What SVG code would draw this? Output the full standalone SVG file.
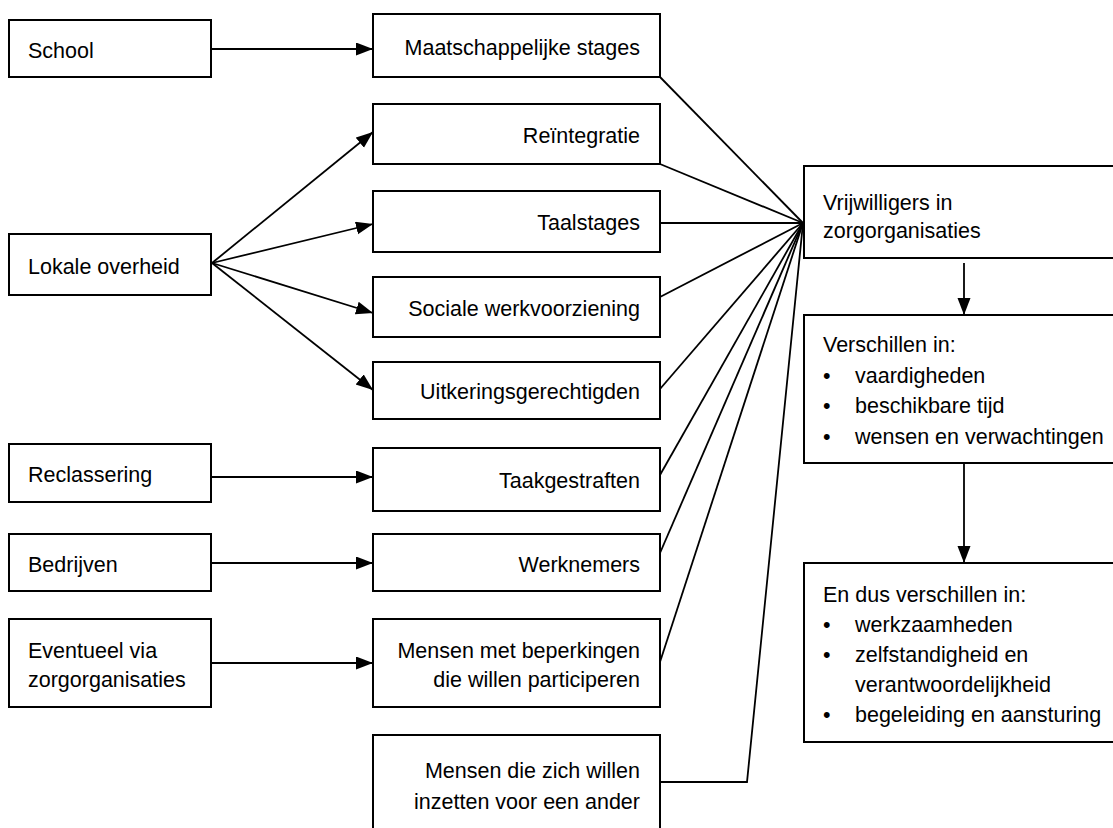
<svg xmlns="http://www.w3.org/2000/svg" width="1113" height="828" viewBox="0 0 1113 828">
<style>
rect{fill:#fff;stroke:#000;stroke-width:2}
text{font-family:"Liberation Sans",Arial,sans-serif;font-size:21.5px;fill:#000}
.r{text-anchor:end}
.c line,.c polyline{stroke:#000;stroke-width:1.8;fill:none}
.a{marker-end:url(#ah)}
</style>
<defs>
<marker id="ah" markerUnits="userSpaceOnUse" markerWidth="18" markerHeight="14" refX="17" refY="6.5" orient="auto">
<path d="M0,0 L17,6.5 L0,13 z" fill="#000"/>
</marker>
</defs>
<g class="c" id="connectors">
<line class="a" x1="211" y1="49" x2="373" y2="49"/>
<line class="a" x1="212" y1="263" x2="373" y2="132"/>
<line class="a" x1="212" y1="263" x2="373" y2="224"/>
<line class="a" x1="212" y1="263" x2="373" y2="313"/>
<line class="a" x1="212" y1="263" x2="373" y2="390"/>
<line class="a" x1="211" y1="477" x2="373" y2="477"/>
<line class="a" x1="211" y1="563" x2="373" y2="563"/>
<line class="a" x1="211" y1="663" x2="373" y2="663"/>
<line x1="660" y1="77" x2="803" y2="223"/>
<line x1="660" y1="164" x2="803" y2="223"/>
<line x1="660" y1="223" x2="803" y2="223"/>
<line x1="660" y1="297" x2="803" y2="223"/>
<line x1="660" y1="389" x2="803" y2="223"/>
<line x1="660" y1="475" x2="803" y2="223"/>
<line x1="660" y1="553" x2="803" y2="223"/>
<line x1="660" y1="662" x2="803" y2="223"/>
<polyline points="660,782 747,782 803,223"/>
<line class="a" x1="964" y1="263" x2="964" y2="315"/>
<line class="a" x1="964" y1="464" x2="964" y2="563"/>
</g>
<g id="school"><rect x="9" y="20" width="202" height="57"/><text x="28" y="58">School</text></g>
<g id="lokale"><rect x="9" y="234" width="202" height="61"/><text x="28" y="274">Lokale overheid</text></g>
<g id="reclassering"><rect x="9" y="444" width="202" height="58"/><text x="28" y="482">Reclassering</text></g>
<g id="bedrijven"><rect x="9" y="534" width="202" height="57"/><text x="28" y="572">Bedrijven</text></g>
<g id="eventueel"><rect x="9" y="619" width="202" height="88"/><text x="28" y="658">Eventueel via</text><text x="28" y="687">zorgorganisaties</text></g>
<g id="maatschappelijke"><rect x="373" y="14" width="287" height="63"/><text class="r" x="640" y="55">Maatschappelijke stages</text></g>
<g id="reintegratie"><rect x="373" y="104" width="287" height="60"/><text class="r" x="640" y="143">Reïntegratie</text></g>
<g id="taalstages"><rect x="373" y="191" width="287" height="61"/><text class="r" x="640" y="230">Taalstages</text></g>
<g id="sociale"><rect x="373" y="277" width="287" height="60"/><text class="r" x="640" y="316">Sociale werkvoorziening</text></g>
<g id="uitkering"><rect x="373" y="362" width="287" height="57"/><text class="r" x="640" y="399">Uitkeringsgerechtigden</text></g>
<g id="taakgestraften"><rect x="373" y="448" width="287" height="63"/><text class="r" x="640" y="488">Taakgestraften</text></g>
<g id="werknemers"><rect x="373" y="534" width="287" height="57"/><text class="r" x="640" y="572">Werknemers</text></g>
<g id="beperkingen"><rect x="373" y="619" width="287" height="88"/><text class="r" x="640" y="658">Mensen met beperkingen</text><text class="r" x="640" y="687">die willen participeren</text></g>
<g id="inzetten"><rect x="373" y="735" width="287" height="100"/><text class="r" x="640" y="778">Mensen die zich willen</text><text class="r" x="640" y="809">inzetten voor een ander</text></g>
<g id="vrijwilligers"><rect x="804" y="166" width="320" height="92"/><text x="823" y="210">Vrijwilligers in</text><text x="823" y="238">zorgorganisaties</text></g>
<g id="verschillen"><rect x="804" y="315" width="320" height="148"/>
<text x="823" y="352">Verschillen in:</text>
<text x="823" y="382.5">•</text><text x="855" y="382.5">vaardigheden</text>
<text x="823" y="413">•</text><text x="855" y="413">beschikbare tijd</text>
<text x="823" y="443.5">•</text><text x="855" y="443.5">wensen en verwachtingen</text></g>
<g id="endus"><rect x="804" y="563" width="320" height="179"/>
<text x="823" y="602">En dus verschillen in:</text>
<text x="823" y="632">•</text><text x="855" y="632">werkzaamheden</text>
<text x="823" y="662">•</text><text x="855" y="662">zelfstandigheid en</text>
<text x="855" y="692">verantwoordelijkheid</text>
<text x="823" y="722">•</text><text x="855" y="722">begeleiding en aansturing</text></g>
</svg>
